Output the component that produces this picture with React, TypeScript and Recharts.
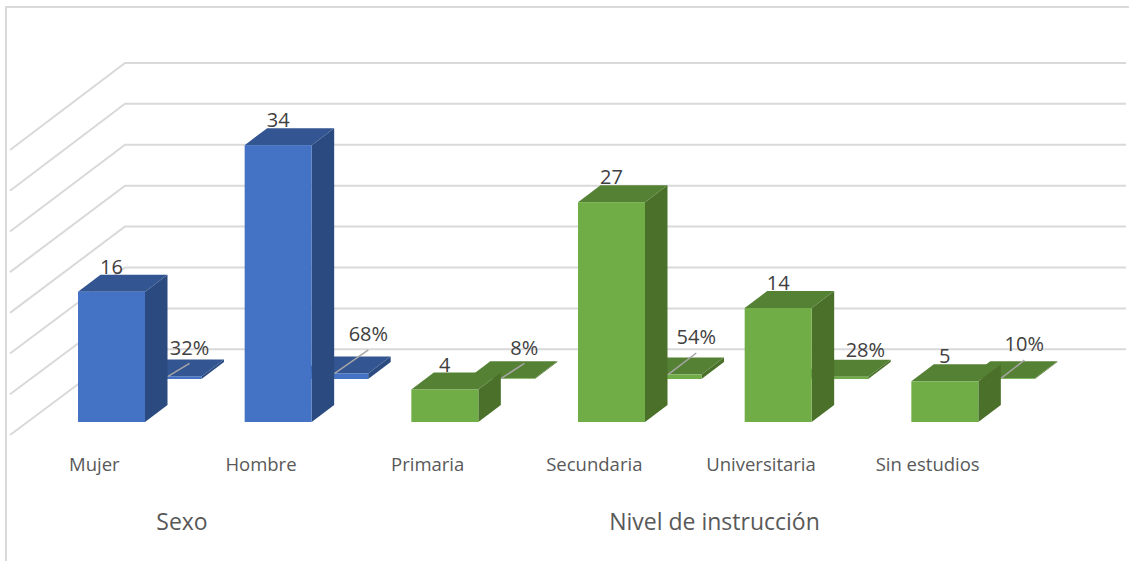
import { BarChart, Bar, XAxis, YAxis, CartesianGrid, LabelList } from "recharts";

const categories = ["Mujer", "Hombre", "Primaria", "Secundaria", "Universitaria", "Sin estudios"];
const groups = ["Sexo", "Sexo", "Nivel", "Nivel", "Nivel", "Nivel"];
const counts = [16, 34, 4, 27, 14, 5];
const percents = [32, 68, 8, 54, 28, 10];
const yTicks = [0, 5, 10, 15, 20, 25, 30, 35];

const rows = categories.map((name, i) => ({
    name,
    group: groups[i],
    count: counts[i],
    share: percents[i] / 100,
    percent: percents[i],
}));

const FONT = "'Open Sans', sans-serif";
const BASELINE = 422;
const BAR_WIDTH = 67;

// oblique offset of one bar's depth
const DEPTH_X = 22.5;
const DEPTH_Y = 17;
// the percent row stands further back on the floor
const ROW_X = 56.5;
const ROW_Y = 43;

const PALETTE: Record<string, { front: string; side: string; top: string }> = {
    Sexo: { front: "#4472c4", side: "#2a4a80", top: "#335592" },
    Nivel: { front: "#70ad47", side: "#4a7029", top: "#558135" },
};

// manual placement of the percent labels, from the middle of the bar's front top edge
const PERCENT_LABEL_SHIFT = [
    { dx: 21.5, dy: -29, leader: true },
    { dx: 33.7, dy: -39.5, leader: true },
    { dx: 23, dy: -31, leader: true },
    { dx: 28.3, dy: -37.6, leader: true },
    { dx: 30.7, dy: -26.7, leader: false },
    { dx: 23, dy: -34, leader: true },
];

const Box = ({ x, y, width, height, group }: any) => {
    const c = PALETTE[group];
    const r = x + width;
    const b = y + height;
    return (
        <g>
            <polygon
                points={`${r},${y} ${r + DEPTH_X},${y - DEPTH_Y} ${r + DEPTH_X},${b - DEPTH_Y} ${r},${b}`}
                fill={c.side}
            />
            <polygon
                points={`${x},${y} ${x + DEPTH_X},${y - DEPTH_Y} ${r + DEPTH_X},${y - DEPTH_Y} ${r},${y}`}
                fill={c.top}
            />
            <rect x={x} y={y} width={width} height={height} fill={c.front} />
        </g>
    );
};

const CountBar = (props: any) => <Box {...props} group={props.payload.group} />;

const ShareBar = (props: any) => (
    <Box {...props} x={props.x + ROW_X} y={props.y - ROW_Y} group={props.payload.group} />
);

const CountLabel = ({ x, y, width, value }: any) => (
    <text
        x={x + width / 2}
        y={y - 25}
        dy="0.36em"
        textAnchor="middle"
        fontFamily={FONT}
        fontSize={20}
        fill="#404040"
    >
        {value}
    </text>
);

const PercentLabel = ({ x, y, width, value, index }: any) => {
    const shift = PERCENT_LABEL_SHIFT[index];
    const cx = x + ROW_X + width / 2;
    const cy = y - ROW_Y;
    return (
        <g>
            {shift.leader && (
                <line
                    x1={cx}
                    y1={cy}
                    x2={cx + shift.dx}
                    y2={cy + shift.dy + 16}
                    stroke="#a6a6a6"
                    strokeWidth={1.5}
                />
            )}
            <text
                x={cx + shift.dx}
                y={cy + shift.dy}
                dy="0.36em"
                textAnchor="middle"
                fontFamily={FONT}
                fontSize={20}
                fill="#404040"
            >
                {value}%
            </text>
        </g>
    );
};

// Each gridline runs along the back wall and folds forward down the side wall
const WallLine = ({ y1, index }: any) => {
    const backY = y1 - 72.7 - (BASELINE - y1) * 0.005;
    return (
        <polyline
            key={index}
            points={`10,${y1 + 13} 125,${backY} 1126,${backY}`}
            fill="none"
            stroke="#d9d9d9"
            strokeWidth={2}
        />
    );
};

const CategoryTick = ({ x, y, payload }: any) => (
    <text
        x={x - 17}
        y={y + 1}
        dy="0.36em"
        textAnchor="middle"
        fontFamily={FONT}
        fontSize={18.5}
        fill="#595959"
    >
        {payload.value}
    </text>
);

export default function App() {
    return (
        <div style={{ position: "absolute", left: 0, top: 0, width: 1129, height: 561, background: "#fff" }}>
            {/* chart border, only the top and left edges are in view */}
            <div
                style={{
                    position: "absolute",
                    left: 5,
                    top: 6,
                    right: 0,
                    bottom: 0,
                    borderTop: "2px solid #d9d9d9",
                    borderLeft: "2px solid #d9d9d9",
                }}
            />
            <BarChart
                width={1129}
                height={561}
                data={rows}
                barSize={BAR_WIDTH}
                barGap={-BAR_WIDTH}
                margin={{ top: 137, right: 101, bottom: 109, left: 28 }}
                style={{ position: "absolute", left: 0, top: 0 }}
            >
                <CartesianGrid vertical={false} horizontal={WallLine} />
                <XAxis
                    dataKey="name"
                    height={30}
                    axisLine={false}
                    tickLine={false}
                    tickSize={0}
                    tickMargin={41}
                    tick={CategoryTick}
                    interval={0}
                />
                <YAxis hide domain={[0, 35]} ticks={yTicks} />
                <Bar dataKey="share" shape={ShareBar} isAnimationActive={false}>
                    <LabelList dataKey="percent" content={PercentLabel} />
                </Bar>
                <Bar dataKey="count" shape={CountBar} isAnimationActive={false}>
                    <LabelList dataKey="count" content={CountLabel} />
                </Bar>
                <text x={182} y={530} textAnchor="middle" fontFamily={FONT} fontSize={23} fill="#595959">
                    Sexo
                </text>
                <text x={714.5} y={530} textAnchor="middle" fontFamily={FONT} fontSize={23} fill="#595959">
                    Nivel de instrucción
                </text>
            </BarChart>
        </div>
    );
}
